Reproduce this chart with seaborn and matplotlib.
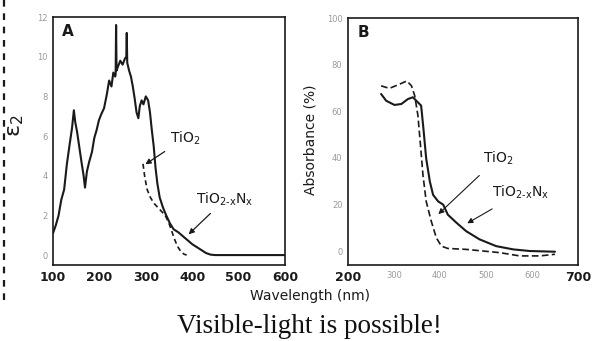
import numpy as np
import pandas as pd
import matplotlib
matplotlib.use("Agg")
import matplotlib.pyplot as plt
from matplotlib.lines import Line2D
import seaborn as sns

# Panel A: imaginary part of dielectric function, eps2
a_nx_wl = [100, 106, 112, 118, 124, 130, 136, 141, 145, 148, 152, 157, 162, 166, 169,
           173, 178, 184, 189, 194, 199, 204, 210, 216, 221, 226, 230, 234, 235, 236,
           237, 240, 245, 250, 255, 258, 259, 260, 264, 268, 272, 276, 280, 284, 287,
           291, 295, 300, 305, 309, 313, 317, 321, 325, 330, 337, 344, 352, 360, 370,
           380, 390, 400, 410, 420, 430, 440, 450, 500, 550, 600]
a_nx_eps = [1.1, 1.5, 2.0, 2.8, 3.3, 4.6, 5.6, 6.4, 7.3, 6.7, 6.2, 5.4, 4.6, 4.0, 3.4,
            4.2, 4.7, 5.2, 5.9, 6.3, 6.8, 7.1, 7.4, 8.1, 8.8, 8.5, 9.2, 9.0, 9.1, 11.6,
            9.3, 9.5, 9.8, 9.6, 9.9, 10.0, 11.2, 9.7, 9.3, 9.0, 8.5, 7.9, 7.2, 6.9, 7.5,
            7.8, 7.6, 8.0, 7.8, 7.2, 6.3, 5.5, 4.4, 3.6, 2.9, 2.4, 2.0, 1.6, 1.3, 1.15,
            0.95, 0.75, 0.55, 0.4, 0.25, 0.1, 0.02, 0.0, 0.0, 0.0, 0.0]
a_ti_wl = [294, 298, 303, 310, 318, 326, 334, 342, 350, 356, 362, 368, 375, 382, 388]
a_ti_eps = [4.6, 3.9, 3.3, 2.9, 2.6, 2.4, 2.2, 2.0, 1.6, 1.2, 0.8, 0.45, 0.2, 0.05, 0.0]

# Panel B: absorbance spectra
b_nx_wl = [272, 283, 301, 316, 330, 341, 352, 359, 364, 370, 378, 385, 396, 407, 417,
           436, 457, 486, 522, 559, 595, 650]
b_nx_abs = [67.4, 64.5, 62.7, 63.1, 65.2, 66.0, 63.8, 62.4, 52.5, 39.7, 29.8, 24.1, 21.3,
            19.9, 15.6, 12.1, 8.5, 5.0, 2.1, 0.7, 0.0, -0.3]
b_ti_wl = [272, 290, 312, 328, 338, 345, 352, 357, 363, 370, 381, 392, 403, 417, 457,
           530, 573, 617, 650]
b_ti_abs = [70.9, 69.8, 71.6, 73.0, 70.9, 66.7, 58.2, 46.8, 32.6, 21.3, 12.8, 5.7, 2.1,
            1.1, 0.7, -0.7, -2.1, -2.1, -1.4]

a_xticks = [100, 200, 300, 400, 500, 600]
a_yticks = [0, 2, 4, 6, 8, 10, 12]
b_xticks = [200, 300, 400, 500, 600, 700]
b_yticks = [0, 20, 40, 60, 80, 100]

sns.set_style("white")
plt.rcParams["font.family"] = ["DejaVu Sans"]
plt.rcParams["mathtext.default"] = "regular"

fig = plt.figure(figsize=(6.07, 3.41), dpi=100)
axA = fig.add_axes([0.0873, 0.2229, 0.3822, 0.7271])
axB = fig.add_axes([0.5733, 0.2229, 0.3789, 0.7242])

ink = "#1a1a1a"
faint = "#9a9a9a"

sns.lineplot(x=a_nx_wl, y=a_nx_eps, ax=axA, color=ink, lw=1.5, sort=False)
sns.lineplot(x=a_ti_wl, y=a_ti_eps, ax=axA, color=ink, lw=1.2, sort=False,
             linestyle=(0, (3, 2)))
sns.lineplot(x=b_nx_wl, y=b_nx_abs, ax=axB, color=ink, lw=1.5, sort=False)
sns.lineplot(x=b_ti_wl, y=b_ti_abs, ax=axB, color=ink, lw=1.2, sort=False,
             linestyle=(0, (4, 2)))

axA.set_xlim(100, 600)
axA.set_ylim(-0.5, 12)
axB.set_xlim(200, 700)
axB.set_ylim(-6, 100)

for ax in (axA, axB):
    for s in ax.spines.values():
        s.set_color(ink)
        s.set_linewidth(1.2)
    ax.tick_params(length=0, pad=4)

axA.set_xticks(a_xticks)
axA.set_xticklabels([str(t) for t in a_xticks], fontsize=9, fontweight="bold", color=ink)
axA.set_yticks(a_yticks)
axA.set_yticklabels([str(t) for t in a_yticks], fontsize=6, color=faint)

axB.set_xticks(b_xticks)
axB.set_xticklabels([str(t) for t in b_xticks], fontsize=6, color=faint)
for lbl in (axB.get_xticklabels()[0], axB.get_xticklabels()[-1]):
    lbl.set_color(ink)
    lbl.set_fontsize(9)
    lbl.set_fontweight("bold")
axB.set_yticks(b_yticks)
axB.set_yticklabels([str(t) for t in b_yticks], fontsize=6, color=faint)

axA.set_xlabel("")
axA.set_ylabel("")
axB.set_xlabel("")
axB.set_ylabel("")

# Panel letters
axA.text(0.04, 0.97, "A", transform=axA.transAxes, fontsize=11, fontweight="bold",
         va="top", ha="left", color=ink)
axB.text(0.04, 0.97, "B", transform=axB.transAxes, fontsize=11, fontweight="bold",
         va="top", ha="left", color=ink)

# Curve labels with pointers
nx_label = "TiO$_{2\u2010x}$N$_{x}$"
arrow = dict(arrowstyle="-|>", color=ink, lw=0.9, mutation_scale=8)
axA.annotate("TiO$_{2}$", xy=(294, 4.5), xytext=(352, 5.9), fontsize=10, color=ink,
             va="center", ha="left", arrowprops=arrow)
axA.annotate(nx_label, xy=(388, 0.95), xytext=(409, 2.8), fontsize=10,
             color=ink, va="center", ha="left", arrowprops=arrow)
axB.annotate("TiO$_{2}$", xy=(392, 15), xytext=(493, 40), fontsize=10, color=ink,
             va="center", ha="left", arrowprops=dict(arrowstyle="-|>", color=ink, lw=0.8,
                                                     mutation_scale=8, shrinkA=6))
axB.annotate(nx_label, xy=(454, 11.3), xytext=(512, 25), fontsize=10,
             color=ink, va="center", ha="left",
             arrowprops=dict(arrowstyle="-|>", color=ink, lw=0.8, mutation_scale=8,
                             shrinkA=6))

# Axis titles
fig.text(0.027, 0.63, "\u03b5$_{2}$", rotation=90, fontsize=16, ha="center",
         va="center", color=ink)
fig.text(0.512, 0.59, "Absorbance (%)", rotation=90, fontsize=10, ha="center",
         va="center", color=ink)
fig.text(0.51, 0.132, "Wavelength (nm)", fontsize=10, ha="center", va="center", color=ink)

fig.text(0.51, 0.042, "Visible-light is possible!", fontsize=19.5, ha="center",
         va="center", color="#111111", family=["Liberation Serif"])

# Dashed divider on the left edge
fig.add_artist(Line2D([0.006, 0.006], [1.0, 0.11], transform=fig.transFigure,
                      color=ink, lw=1.6, linestyle=(0, (3, 3))))

fig.savefig("out.png", dpi=100)
